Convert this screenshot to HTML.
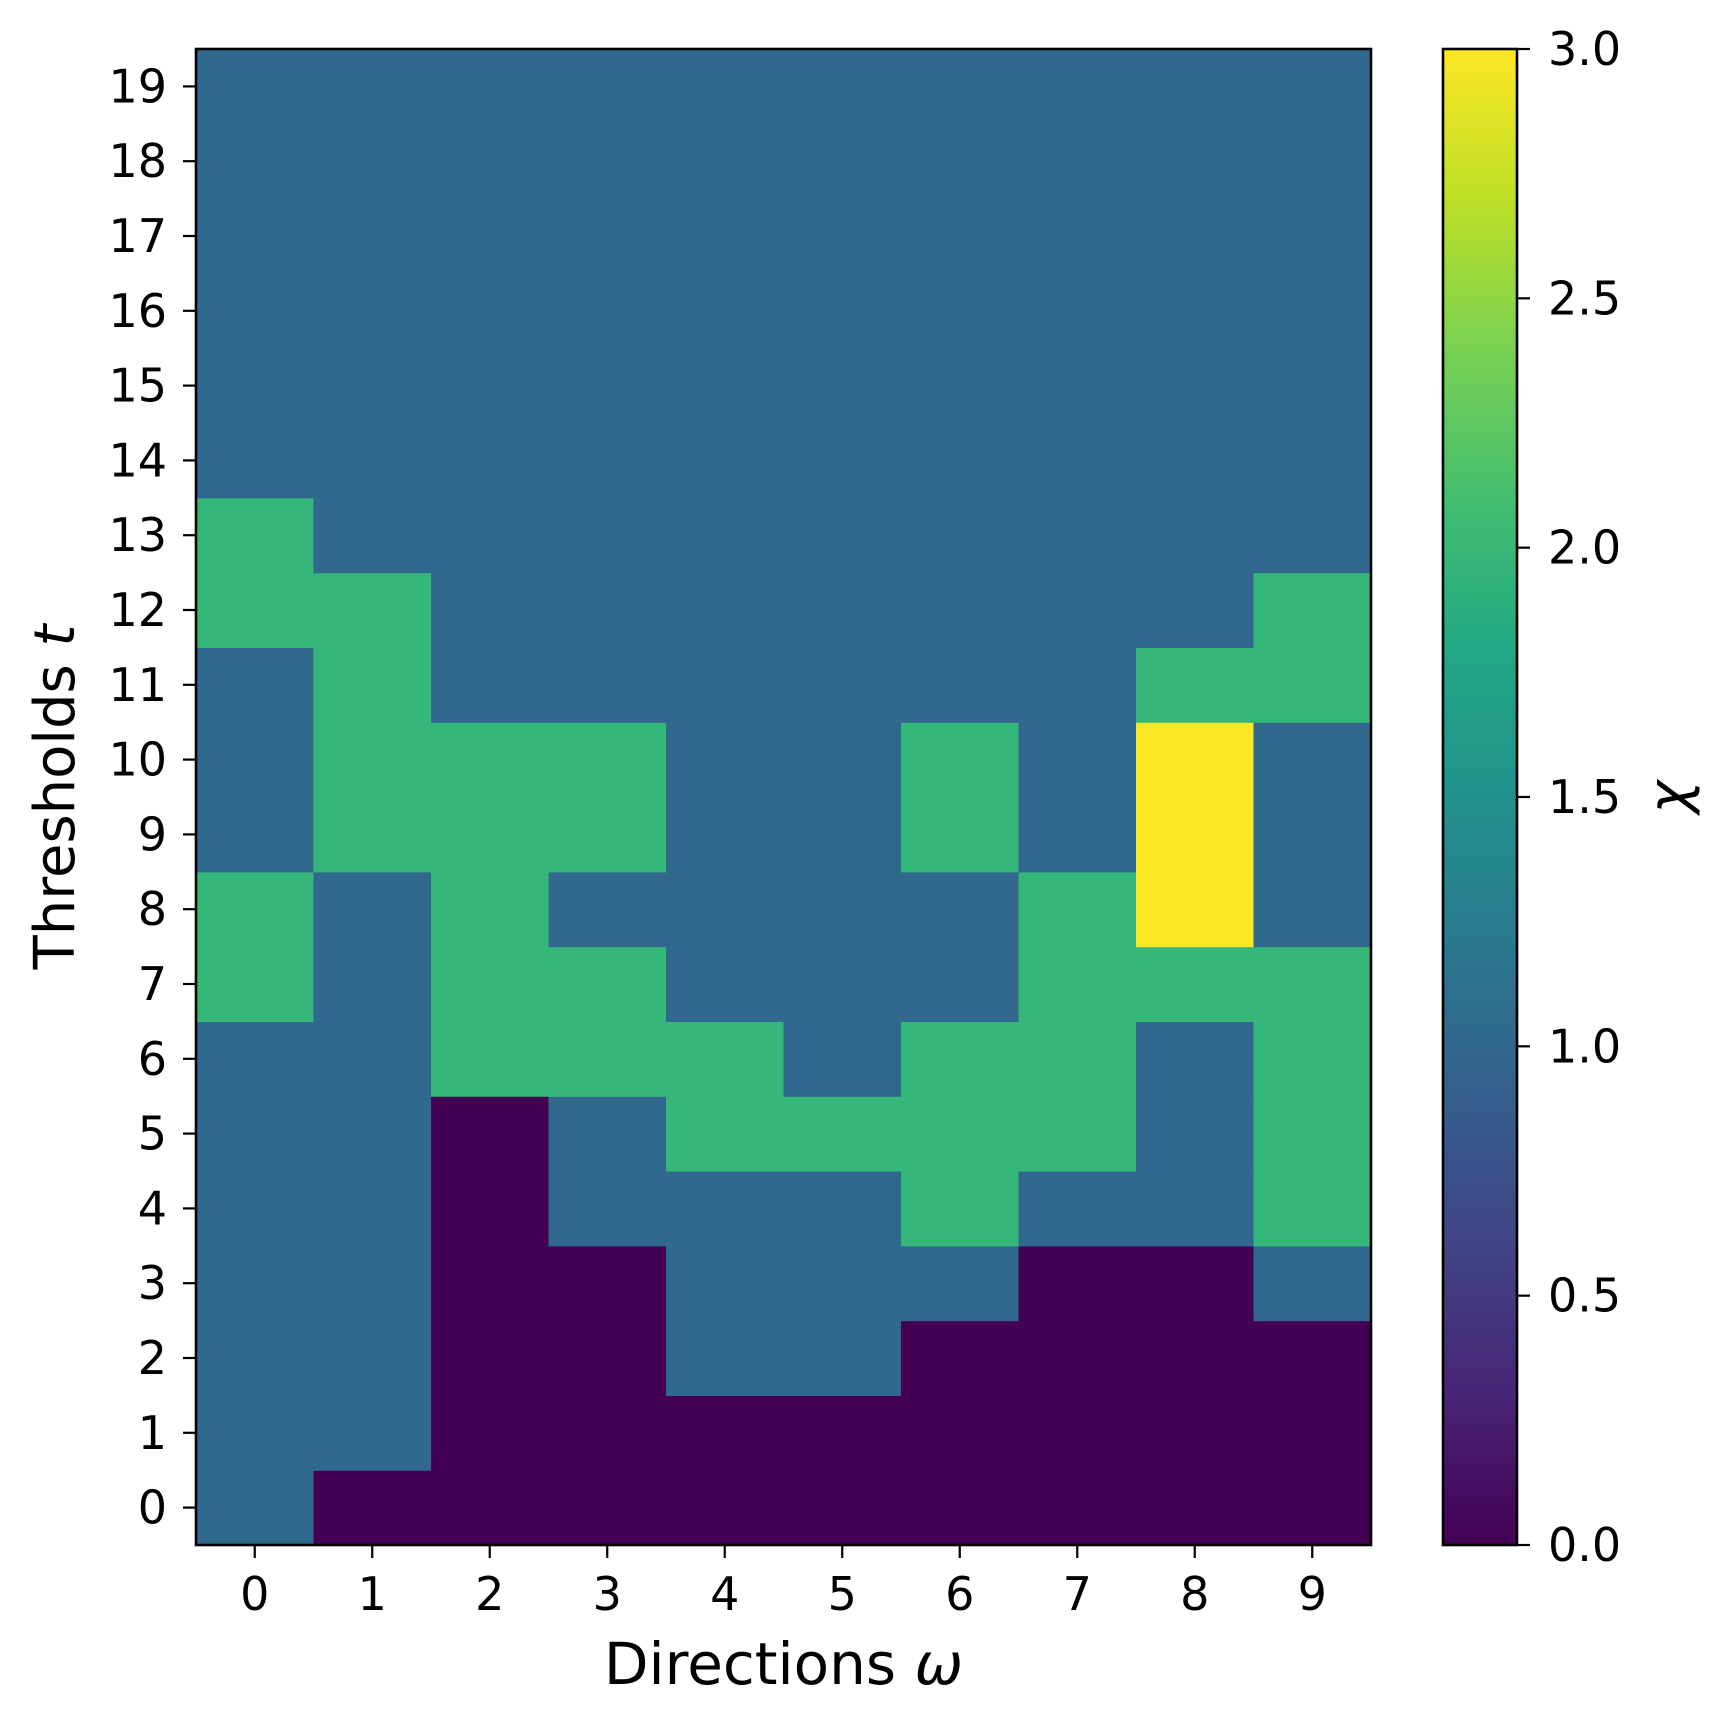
<!DOCTYPE html>
<html><head><meta charset="utf-8"><style>
html,body{margin:0;padding:0;background:#fff}
svg text{font-family:"DejaVu Sans","Liberation Sans",sans-serif;fill:#000}
</style></head><body>
<svg id="chart" width="1729" height="1726" viewBox="0 0 1729 1726" xmlns="http://www.w3.org/2000/svg">
<defs>
<linearGradient id="viridis" x1="0" y1="1" x2="0" y2="0">
<stop offset="0" stop-color="#440154"/><stop offset="0.1" stop-color="#482475"/>
<stop offset="0.2" stop-color="#414487"/><stop offset="0.3" stop-color="#355f8d"/>
<stop offset="0.4" stop-color="#2a788e"/><stop offset="0.5" stop-color="#21918c"/>
<stop offset="0.6" stop-color="#22a884"/><stop offset="0.7" stop-color="#44bf70"/>
<stop offset="0.8" stop-color="#7ad151"/><stop offset="0.9" stop-color="#bddf26"/>
<stop offset="1" stop-color="#fde725"/></linearGradient>
</defs>
<g id="cells"></g>
<g id="axes"></g>
</svg>
<script>
const directions=[0,1,2,3,4,5,6,7,8,9];
const thresholds=[0,1,2,3,4,5,6,7,8,9,10,11,12,13,14,15,16,17,18,19];
// rows indexed by threshold t=0..19
const row0=[1,0,0,0,0,0,0,0,0,0];
const row1=[1,1,0,0,0,0,0,0,0,0];
const row2=[1,1,0,0,1,1,0,0,0,0];
const row3=[1,1,0,0,1,1,1,0,0,1];
const row4=[1,1,0,1,1,1,2,1,1,2];
const row5=[1,1,0,1,2,2,2,2,1,2];
const row6=[1,1,2,2,2,1,2,2,1,2];
const row7=[2,1,2,2,1,1,1,2,2,2];
const row8=[2,1,2,1,1,1,1,2,3,1];
const row9=[1,2,2,2,1,1,2,1,3,1];
const row10=[1,2,2,2,1,1,2,1,3,1];
const row11=[1,2,1,1,1,1,1,1,2,2];
const row12=[2,2,1,1,1,1,1,1,1,2];
const row13=[2,1,1,1,1,1,1,1,1,1];
const row14=[1,1,1,1,1,1,1,1,1,1];
const row15=[1,1,1,1,1,1,1,1,1,1];
const row16=[1,1,1,1,1,1,1,1,1,1];
const row17=[1,1,1,1,1,1,1,1,1,1];
const row18=[1,1,1,1,1,1,1,1,1,1];
const row19=[1,1,1,1,1,1,1,1,1,1];
const values=[row0,row1,row2,row3,row4,row5,row6,row7,row8,row9,row10,row11,row12,row13,row14,row15,row16,row17,row18,row19];
const cbTicks=[0,0.5,1,1.5,2,2.5,3];
const cbTickLabels=["0.0","0.5","1.0","1.5","2.0","2.5","3.0"];

const NS="http://www.w3.org/2000/svg";
const L=196,R=1371,T=49,B=1545;
const vmin=0,vmax=3;
const cw=(R-L)/directions.length, ch=(B-T)/thresholds.length;
const xPos=i=>L+cw*i, yPos=j=>B-ch*(j+1);
const stops=[[0,[68,1,84]],[0.111,[72,40,120]],[0.222,[62,74,137]],[0.333,[49,104,142]],[0.444,[38,130,142]],[0.555,[31,158,137]],[0.667,[53,183,121]],[0.778,[109,205,89]],[0.889,[180,222,44]],[1,[253,231,37]]];
function cmap(v){const t=Math.max(0,Math.min(1,(v-vmin)/(vmax-vmin)));
 for(let k=1;k<stops.length;k++){if(t<=stops[k][0]){const a=stops[k-1],b=stops[k];const f=(t-a[0])/(b[0]-a[0]);
 return 'rgb('+a[1].map((c,i)=>Math.round(c+(b[1][i]-c)*f)).join(',')+')';}}return 'rgb(253,231,37)';}
function el(tag,attrs,parent){const e=document.createElementNS(NS,tag);for(const k in attrs)e.setAttribute(k,attrs[k]);parent.appendChild(e);return e;}
const cells=document.getElementById('cells'),axes=document.getElementById('axes');
thresholds.forEach((t,j)=>{directions.forEach((d,i)=>{
 const r=el('rect',{x:xPos(i),y:yPos(j),width:cw+0.6,height:ch+0.6,fill:cmap(values[j][i])},cells);
 
 
});});
const frame=el('rect',{x:L,y:T,width:R-L,height:B-T,fill:'none',stroke:'#000','stroke-width':2.6},axes);


directions.forEach((d,i)=>{const x=xPos(i)+cw/2;
 el('line',{x1:x,y1:B,x2:x,y2:B+13,stroke:'#000','stroke-width':2.2},axes);
 const tx=el('text',{x:x,y:1610,'font-size':46,'text-anchor':'middle'},axes);tx.textContent=d;
 
 
});
thresholds.forEach((t,j)=>{const y=yPos(j)+ch/2;
 el('line',{x1:L-13,y1:y,x2:L,y2:y,stroke:'#000','stroke-width':2.2},axes);
 const tx=el('text',{x:L-29,y:y+16,'font-size':46,'text-anchor':'end'},axes);tx.textContent=t;
 
 
});
const xl=el('text',{x:(L+R)/2,y:1684,'font-size':58,'text-anchor':'middle'},axes);xl.innerHTML='Directions <tspan font-style="italic">ω</tspan>';


const yl=el('text',{x:0,y:0,'font-size':56,'text-anchor':'middle',transform:'translate(74,'+((T+B)/2)+') rotate(-90)'},axes);yl.innerHTML='Thresholds <tspan font-style="italic">t</tspan>';


// colorbar
const CL=1443,CR=1517;
const cb=el('rect',{x:CL,y:T,width:CR-CL,height:B-T,fill:'url(#viridis)',stroke:'#000','stroke-width':2.6},axes);


cbTicks.forEach((v,k)=>{const y=B-(v-vmin)/(vmax-vmin)*(B-T);
 el('line',{x1:CR,y1:y,x2:CR+13,y2:y,stroke:'#000','stroke-width':2.2},axes);
 const tx=el('text',{x:CR+31,y:y+16,'font-size':46},axes);tx.textContent=cbTickLabels[k];
 
 
});
const cl=el('text',{x:0,y:0,'font-size':56,'font-style':'italic','text-anchor':'middle',transform:'translate(1688,'+((T+B)/2)+') rotate(-90)'},axes);cl.textContent='χ';


</script>
</body></html>
